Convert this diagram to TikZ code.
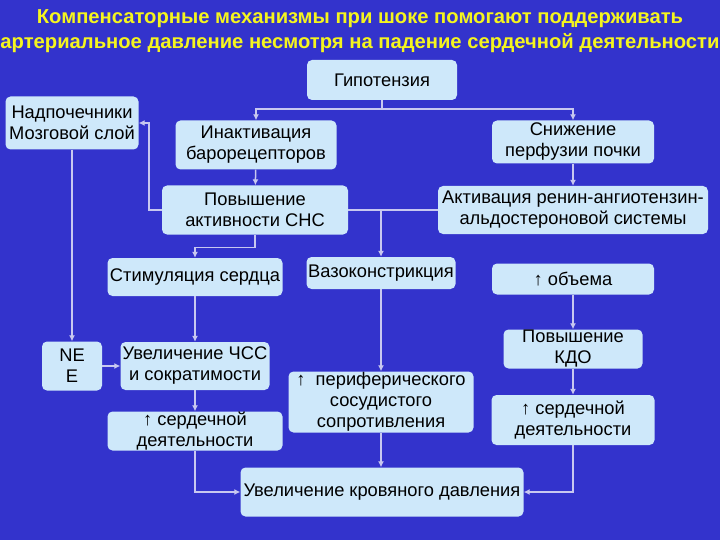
\documentclass[tikz,border=0pt]{standalone}
\usepackage{fontspec}
\setmainfont{Liberation Sans}
\usetikzlibrary{arrows.meta}
\definecolor{slidebg}{RGB}{51,51,204}
\definecolor{boxfill}{RGB}{206,232,250}
\definecolor{linkcol}{RGB}{200,200,240}
\definecolor{titlecol}{RGB}{245,245,30}
\tikzset{
  box/.style={fill=boxfill, rounded corners=5pt, align=center, inner sep=0pt,
    font=\fontsize{18.3}{21}\selectfont},
  link/.style={draw=linkcol, line width=1.5pt},
  arr/.style={link, -{Latex[length=6pt,width=6pt]}},
}
\begin{document}
\begin{tikzpicture}[x=1pt,y=-1pt]
\useasboundingbox (0,0) rectangle (720,540);
\fill[slidebg] (0,0) rectangle (720,540);

% title
\node[text=titlecol, align=center, font=\bfseries\fontsize{20.2}{25}\selectfont] (title) at (360,31)
  {Компенсаторные механизмы при шоке помогают поддерживать\\
   артериальное давление несмотря на падение сердечной деятельности};

% boxes
\node[box, minimum width=150, minimum height=40] (hypo) at (382,80) {Гипотензия};
\node[box, minimum width=133, minimum height=53] (adren) at (72,123) {Надпочечники\\Мозговой слой};
\node[box, minimum width=161, minimum height=49] (inact) at (256,145) {Инактивация\\барорецепторов};
\node[box, minimum width=162, minimum height=43] (perf) at (573,142) {Снижение\\перфузии почки};
\node[box, minimum width=186, minimum height=49] (sns) at (255,210) {Повышение\\активности СНС};
\node[box, minimum width=270, minimum height=48] (raas) at (573,210) {Активация ренин-ангиотензин-\\альдостероновой системы};
\node[box, minimum width=175, minimum height=38] (stim) at (195,277) {Стимуляция сердца};
\node[box, minimum width=149, minimum height=32] (vaso) at (381,273) {Вазоконстрикция};
\node[box, minimum width=162, minimum height=31] (vol) at (573,279) {↑ объема};
\node[box, minimum width=60, minimum height=49] (ne) at (72,366) {NE\\E};
\node[box, minimum width=149, minimum height=48] (hr) at (195,366) {Увеличение ЧСС\\и сократимости};
\node[box, minimum width=185, minimum height=61] (resist) at (381,402) {↑\ \ периферического\\сосудистого\\сопротивления};
\node[box, minimum width=139, minimum height=39] (edv) at (573,349) {Повышение\\КДО};
\node[box, minimum width=175, minimum height=39] (cardL) at (195,431) {↑ сердечной\\деятельности};
\node[box, minimum width=163, minimum height=50] (cardR) at (573,420) {↑ сердечной\\деятельности};
\node[box, minimum width=283, minimum height=49] (bp) at (382,492) {Увеличение кровяного давления};

% links
\draw[link] (hypo.south) -- ++(0,9) coordinate (split);
\draw[arr] (split) -| (inact.north);
\draw[arr] (split) -| (perf.north);
\draw[arr] (inact) -- (sns);
\draw[arr] (perf) -- (raas);
\draw[arr] (sns.west) -- ++(-13,0) |- (adren.east);
\draw[link] (sns.east) -- (raas.west);
\draw[arr] (vaso.north |- sns.east) -- (vaso.north);
\draw[arr] (sns.south) -- ++(0,13) -| (stim.north);
\draw[arr] (adren.south) -- (ne.north);
\draw[arr] (stim) -- (hr);
\draw[arr] (ne) -- (hr);
\draw[arr] (hr) -- (cardL);
\draw[arr] (cardL.south) |- (bp.west);
\draw[arr] (vaso) -- (resist);
\draw[arr] (resist.south) -- (resist.south |- bp.north);
\draw[arr] (vol) -- (edv);
\draw[arr] (edv) -- (cardR);
\draw[arr] (cardR.south) |- (bp.east);
\end{tikzpicture}
\end{document}
